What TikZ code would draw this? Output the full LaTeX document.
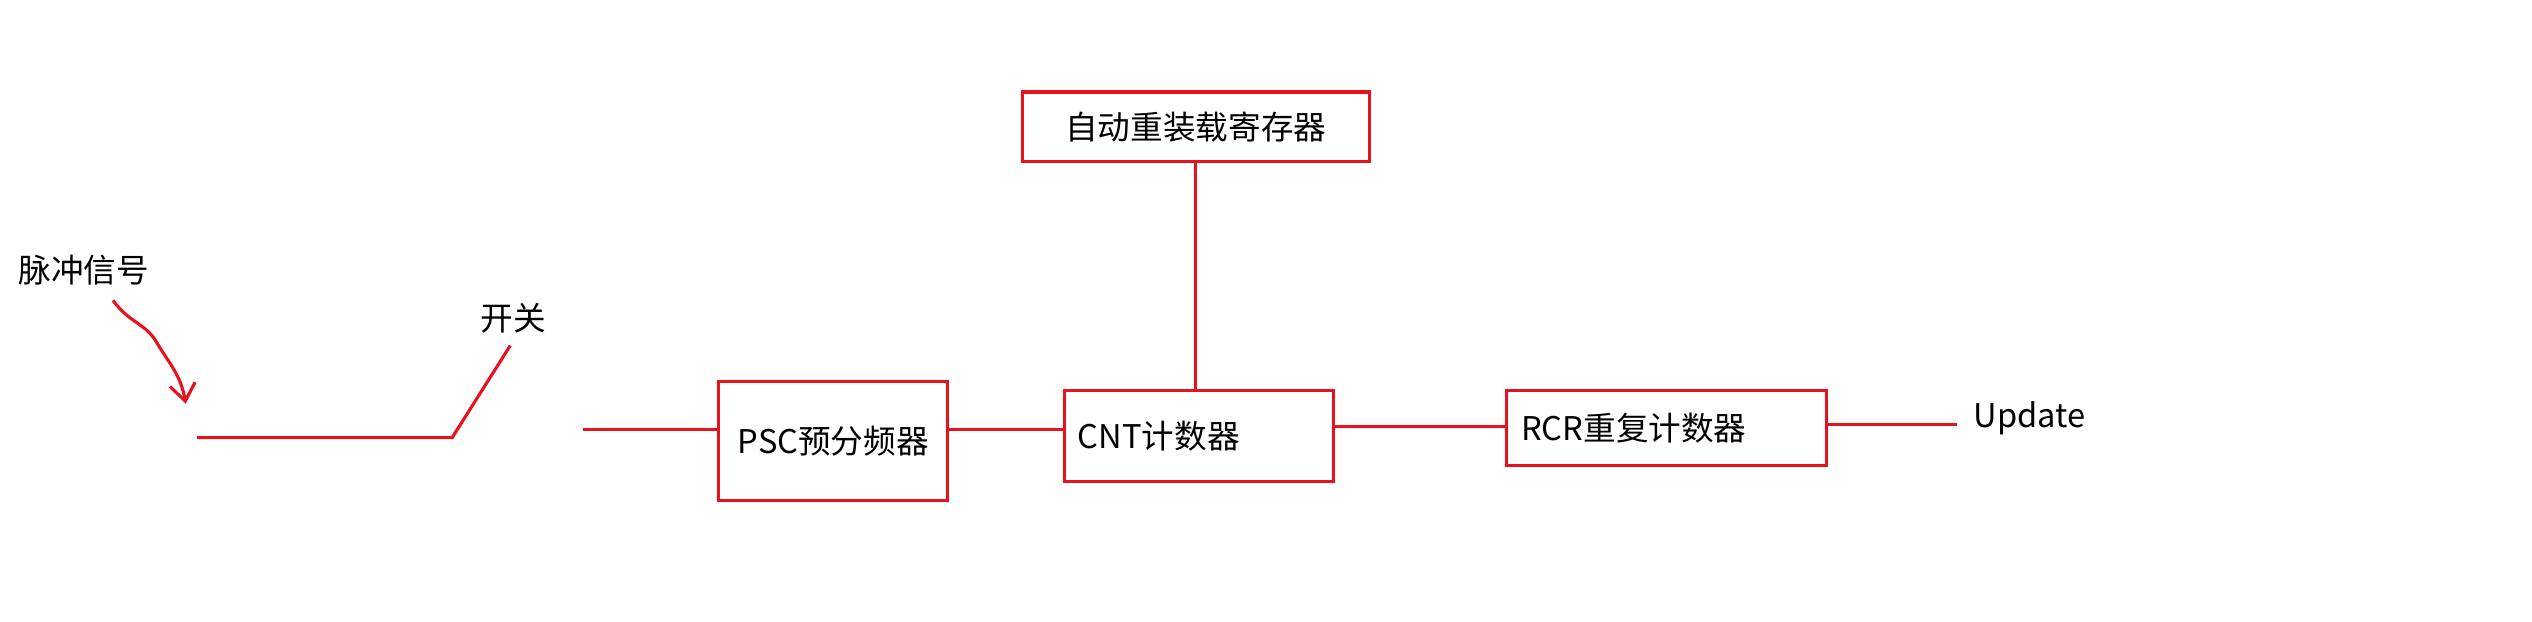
\documentclass[tikz,border=0pt]{standalone}
\usepackage{fontspec}
\setmainfont{Noto Sans CJK SC}
\usetikzlibrary{arrows.meta, positioning, calc}
\definecolor{boxred}{HTML}{E8121E}

\begin{document}
\begin{tikzpicture}[x=0.02cm, y=-0.02cm,
    blk/.style={draw=boxred, line width=1.1pt, inner sep=0pt, font=\fontsize{11.5}{13}\selectfont},
    wire/.style={draw=boxred, line width=1.1pt},
    lbl/.style={font=\fontsize{11.5}{13}\selectfont, inner sep=0pt}]
    \useasboundingbox (0,0) rectangle (1568,385);

    % Blocks
    \node[blk, minimum width=215*0.02cm, minimum height=43*0.02cm] (arr) at (740.5,78.5) {自动重装载寄存器};
    \node[blk, minimum width=142*0.02cm, minimum height=74*0.02cm] (psc) at (516,273) {PSC预分频器};
    \node[blk, minimum width=167*0.02cm, minimum height=56*0.02cm, text width=150*0.02cm, align=left] (cnt) at (742.5,270) {CNT计数器};
    \node[blk, minimum width=198*0.02cm, minimum height=46*0.02cm, text width=180*0.02cm, align=left] (rcr) at (1032,265) {\raisebox{-0.35ex}{RCR重复计数器}};

    % Labels
    \node[lbl] (pulse) at (52,167) {脉冲信号};
    \node[lbl] (sw) at (318,197) {开关};
    \node[lbl] (upd) at (1257,259) {Update};

    % Wires
    \coordinate (in0) at (122,271);
    \coordinate (in1) at (280,271);
    \coordinate (swtip) at (316,214);
    \coordinate (out0) at (361,266);
    \coordinate (out1) at (1212,263);
    \draw[wire] (in0) -- (in1) -- (swtip);
    \draw[wire] (out0) -- (psc.west |- out0);
    \draw[wire] (psc.east |- 0,266) -- (cnt.west |- 0,266);
    \draw[wire] (cnt.east |- 0,264) -- (rcr.west |- 0,264);
    \draw[wire] (rcr.east |- out1) -- (out1);
    \draw[wire] (arr.south) -- (cnt.north -| arr.south);

    % Hand-drawn arrow
    \draw[wire, -{Straight Barb[length=6pt, width=9pt]}] (70,186) .. controls (80,200) and (90,200) .. (97,212) .. controls (104,224) and (112,232) .. (115,250);
\end{tikzpicture}
\end{document}
